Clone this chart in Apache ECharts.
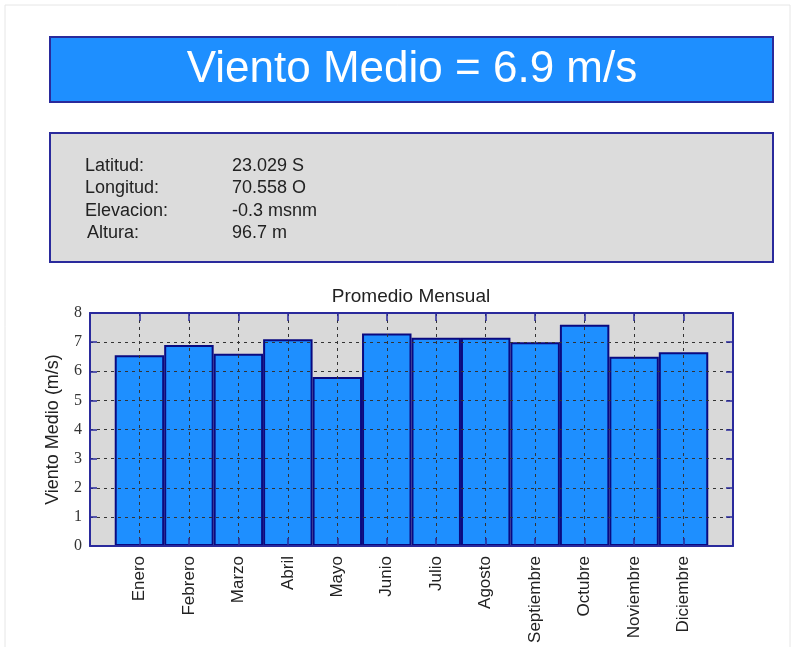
<!DOCTYPE html>
<html>
<head>
<meta charset="utf-8">
<script src="https://cdn.jsdelivr.net/npm/echarts@6/dist/echarts.min.js"></script>
<style>
  html, body { margin: 0; padding: 0; background: #fff; }
  #chart { width: 796px; height: 647px; }
</style>
</head>
<body>
<div id="chart"></div>
<script>
// datos
const months = ['Enero', 'Febrero', 'Marzo', 'Abril', 'Mayo', 'Junio', 'Julio',
  'Agosto', 'Septiembre', 'Octubre', 'Noviembre', 'Diciembre'];
const windMean = [6.55, 6.9, 6.6, 7.1, 5.8, 7.3, 7.15, 7.15, 7.0, 7.6, 6.5, 6.65];
const yTicks = [0, 1, 2, 3, 4, 5, 6, 7, 8];
const headerText = 'Viento Medio = 6.9 m/s';
const infoLabels = ['Latitud:', 'Longitud:', 'Elevacion:', 'Altura:'];
const infoValues = ['23.029 S', '70.558 O', '-0.3 msnm', '96.7 m'];

const navy = '#2a2a9c';
const barBlue = '#1e8fff';
const sans = '"Liberation Sans", Arial, sans-serif';

// medio paso vacio a cada lado, como en la figura
const cats = [''].concat(months, ['']);
const barData = ['-'].concat(windMean, ['-']);
const innerTick = (idx) => idx > 0 && idx < cats.length - 1;

const myChart = echarts.init(document.getElementById('chart'));

const infoText = [];
infoLabels.forEach((lab, i) => {
  const y = 166 + i * 22.4;
  infoText.push({
    type: 'text', x: lab === 'Altura:' ? 87 : 85, y: y,
    style: { text: lab, fill: '#222', font: '18px ' + sans, textVerticalAlign: 'middle' }
  });
  infoText.push({
    type: 'text', x: 232, y: y,
    style: { text: infoValues[i], fill: '#222', font: '18px ' + sans, textVerticalAlign: 'middle' }
  });
});

const gridLine = { show: true, lineStyle: { color: '#333', type: [3, 4], width: 1 } };

const option = {
  backgroundColor: '#fff',
  animation: false,
  graphic: [
    { type: 'rect', shape: { x: 5, y: 5, width: 785, height: 650 },
      style: { fill: 'none', stroke: '#e6e6e6', lineWidth: 1 } },
    { type: 'rect', shape: { x: 50, y: 37, width: 723, height: 65 },
      style: { fill: barBlue, stroke: navy, lineWidth: 2 } },
    { type: 'text', x: 412, y: 70,
      style: { text: headerText, fill: '#fff', font: '44px ' + sans,
        textAlign: 'center', textVerticalAlign: 'middle' } },
    { type: 'rect', shape: { x: 50, y: 133, width: 723, height: 129 },
      style: { fill: '#dcdcdc', stroke: navy, lineWidth: 2 } },
    ...infoText,
    { type: 'text', x: 411, y: 297,
      style: { text: 'Promedio Mensual', fill: '#222', font: '19px ' + sans,
        textAlign: 'center', textVerticalAlign: 'middle' } }
  ],
  grid: {
    left: 90, top: 313, width: 643, height: 233,
    show: true, backgroundColor: '#d9d9d9', borderWidth: 0
  },
  xAxis: [
    {
      type: 'category', data: cats, boundaryGap: false, position: 'bottom', z: 3,
      axisLine: { onZero: false, lineStyle: { color: navy, width: 2 } },
      axisTick: { inside: true, length: 8, interval: innerTick, lineStyle: { color: navy, width: 1.5 } },
      axisLabel: { rotate: 90, margin: 10, fontSize: 17, fontFamily: sans, color: '#222', interval: 0 },
      splitLine: gridLine
    },
    {
      type: 'category', data: cats, boundaryGap: false, position: 'top', z: 3,
      axisLine: { onZero: false, lineStyle: { color: navy, width: 2 } },
      axisTick: { inside: true, length: 8, interval: innerTick, lineStyle: { color: navy, width: 1.5 } },
      axisLabel: { show: false },
      splitLine: { show: false }
    }
  ],
  yAxis: [
    {
      type: 'value', min: yTicks[0], max: yTicks[yTicks.length - 1], interval: 1, position: 'left', z: 3,
      name: 'Viento Medio (m/s)', nameLocation: 'middle', nameGap: 28,
      nameTextStyle: { fontSize: 18, fontFamily: sans, color: '#222' },
      axisLine: { show: true, onZero: false, lineStyle: { color: navy, width: 2 } },
      axisTick: { show: true, inside: true, length: 7, lineStyle: { color: navy, width: 1.5 } },
      axisLabel: { margin: 8, fontSize: 16, fontFamily: '"Liberation Serif", serif', color: '#333' },
      splitLine: gridLine
    },
    {
      type: 'value', min: yTicks[0], max: yTicks[yTicks.length - 1], interval: 1, position: 'right', z: 3,
      axisLine: { show: true, onZero: false, lineStyle: { color: navy, width: 2 } },
      axisTick: { show: true, inside: true, length: 7, lineStyle: { color: navy, width: 1.5 } },
      axisLabel: { show: false },
      splitLine: { show: false }
    }
  ],
  series: [{
    type: 'bar',
    data: barData,
    barWidth: '100%',
    itemStyle: { color: barBlue, borderColor: '#0a0a80', borderWidth: 2 }
  }]
};
myChart.setOption(option);
</script>
</body>
</html>
